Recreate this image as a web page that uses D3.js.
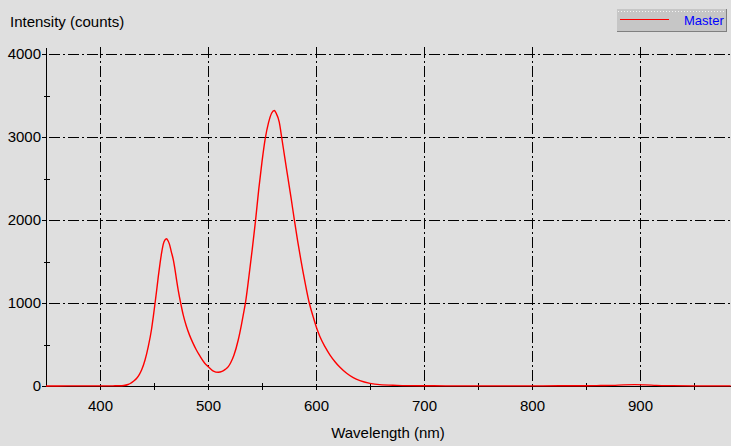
<!DOCTYPE html>
<html>
<head>
<meta charset="utf-8">
<script src="https://cdn.jsdelivr.net/npm/d3@7"></script>
<style>
  html, body { margin: 0; padding: 0; background: #dfdfdf; }
  svg { display: block; font-family: "Liberation Sans", Arial, sans-serif; }
  .axis path, .axis line { stroke: #000; shape-rendering: crispEdges; }
  .axis text { font-size: 15px; fill: #000; }
</style>
</head>
<body>
<svg id="chart" width="731" height="446"></svg>
<script>
// spectrum: wavelength (nm) and intensity (counts)
var wavelength = [350, 370, 390, 405, 412, 418, 422, 426, 428, 431, 434, 436.5, 438.6, 441.7, 444.7,
  447.8, 449.4, 451, 452.5, 454, 455.6, 457, 458.6, 460.2, 461.5, 463, 464.5, 466,
  467.9, 469.5, 471, 472.5, 474.7, 477, 480, 483, 486, 489, 492.6, 497, 500.3, 505, 509.5, 513,
  516, 518.8, 521, 524, 528, 531, 533, 535, 538, 541, 544, 547, 550, 553, 556, 559, 561.4, 563, 566,
  568.2, 571, 574, 577, 580, 583, 586, 590, 593.8, 597.5, 600.6, 603.7, 608.3, 613, 617.6, 622.2,
  628.4, 634.5, 640.7, 650, 659, 675, 700, 720, 750, 780, 810, 840, 860, 875, 885, 895, 905, 915,
  930, 950, 970, 984];
var intensity = [0, 1, 1, 1, 2, 3, 6, 18, 30, 58, 93, 140, 195, 313, 474,
  690, 840, 1000, 1157, 1320, 1478, 1600, 1710, 1760, 1775, 1750, 1700, 1620,
  1520, 1400, 1270, 1150, 1000, 860, 720, 610, 520, 440, 360, 275, 233, 180, 165, 175,
  200, 233, 280, 370, 554, 740, 880, 1030, 1330, 1650, 1990, 2370, 2700, 2980, 3170, 3290, 3320, 3290, 3180,
  3000, 2760, 2510, 2260, 2000, 1750, 1520, 1240, 1000, 830, 700, 594, 474, 373, 293, 225,
  153, 100, 64, 32, 16, 8, 3, 2, 2, 1, 2, 3, 5, 8, 14, 16, 14, 8,
  4, 2, 1, 1];

var seriesName = "Master";
var xTicks = [400, 500, 600, 700, 800, 900];
var xMinor = [450, 550, 650, 750, 850, 950];
var yTicks = [0, 1000, 2000, 3000, 4000];
var yMinor = [500, 1500, 2500, 3500];

var svg = d3.select("#chart");

var x = d3.scaleLinear().domain([350, 984.3]).range([46, 731]);
var y = d3.scaleLinear().domain([0, 4085]).range([386, 47]);

// dash-dot grid
var grid = svg.append("g")
    .attr("stroke", "#000")
    .attr("stroke-width", 1)
    .attr("stroke-dasharray", "11,3,2,3")
    .attr("shape-rendering", "crispEdges");

grid.selectAll(".vg").data(xTicks).enter().append("line")
    .attr("x1", function(d) { return Math.round(x(d)) + 0.5; })
    .attr("x2", function(d) { return Math.round(x(d)) + 0.5; })
    .attr("y1", y(4085))
    .attr("y2", y(0));

grid.selectAll(".hg").data(yTicks.slice(1)).enter().append("line")
    .attr("x1", x(350) + 3)
    .attr("x2", x(984.3))
    .attr("y1", function(d) { return Math.round(y(d)) + 0.5; })
    .attr("y2", function(d) { return Math.round(y(d)) + 0.5; });

// axes
var xAxis = svg.append("g")
    .attr("class", "axis")
    .attr("transform", "translate(0," + y(0) + ")")
    .call(d3.axisBottom(x).tickValues(xTicks).tickFormat(d3.format("d"))
      .tickSize(4).tickSizeOuter(0).tickPadding(10));

var yAxis = svg.append("g")
    .attr("class", "axis")
    .attr("transform", "translate(" + x(350) + ",0)")
    .call(d3.axisLeft(y).tickValues(yTicks).tickFormat(d3.format("d"))
      .tickSize(4).tickSizeOuter(0).tickPadding(1));

// minor ticks cross the axis lines
svg.append("g").selectAll("line").data(xMinor).enter().append("line")
    .attr("x1", function(d) { return Math.round(x(d)) + 0.5; })
    .attr("x2", function(d) { return Math.round(x(d)) + 0.5; })
    .attr("y1", y(0) - 3)
    .attr("y2", y(0) + 4)
    .attr("stroke", "#000")
    .attr("shape-rendering", "crispEdges");

svg.append("g").selectAll("line").data(yMinor).enter().append("line")
    .attr("x1", x(350) - 2)
    .attr("x2", x(350) + 4)
    .attr("y1", function(d) { return Math.round(y(d)) + 0.5; })
    .attr("y2", function(d) { return Math.round(y(d)) + 0.5; })
    .attr("stroke", "#000")
    .attr("shape-rendering", "crispEdges");

// the spectrum
var line = d3.line()
    .x(function(d, i) { return x(wavelength[i]); })
    .y(function(d) { return y(d); })
    .curve(d3.curveMonotoneX);

svg.append("path")
    .datum(intensity)
    .attr("d", line)
    .attr("fill", "none")
    .attr("stroke", "#ff0000")
    .attr("stroke-width", 1.4);

// titles
svg.append("text")
    .attr("x", 10)
    .attr("y", 27)
    .attr("font-size", 15)
    .text("Intensity (counts)");

svg.append("text")
    .attr("x", 388)
    .attr("y", 438)
    .attr("text-anchor", "middle")
    .attr("font-size", 15)
    .text("Wavelength (nm)");

// legend button
var lg = svg.append("g").attr("shape-rendering", "crispEdges");
lg.append("rect")
    .attr("x", 617).attr("y", 9).attr("width", 110).attr("height", 23)
    .attr("fill", "#808080");
lg.append("rect")
    .attr("x", 617).attr("y", 9).attr("width", 109).attr("height", 22)
    .attr("fill", "#c6c6c6");
lg.append("line")
    .attr("x1", 618).attr("x2", 725).attr("y1", 11.5).attr("y2", 11.5)
    .attr("stroke", "#f4f4f4").attr("stroke-dasharray", "1,2");
lg.append("line")
    .attr("x1", 620).attr("x2", 669).attr("y1", 19.5).attr("y2", 19.5)
    .attr("stroke", "#ff0000");
lg.append("text")
    .attr("x", 684).attr("y", 25)
    .attr("font-size", 13)
    .attr("fill", "#0000ff")
    .text(seriesName);
</script>
</body>
</html>
